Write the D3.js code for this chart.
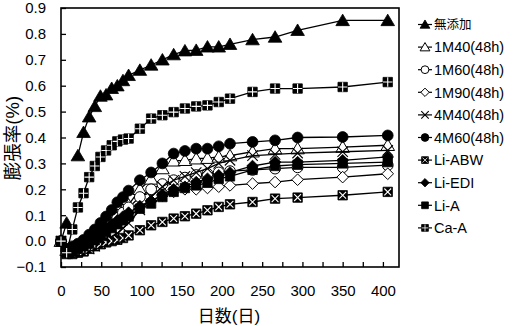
<!DOCTYPE html>
<html><head><meta charset="utf-8">
<script src="https://cdn.jsdelivr.net/npm/d3@7"></script>
<style>
html,body{margin:0;padding:0;background:#fff;}
svg{display:block;font-family:"Liberation Sans",Arial,"Noto Sans CJK JP",sans-serif;}
</style></head>
<body><svg id="c" width="514" height="326"></svg>
<script>
const days = [0,7,14,21,28,35,42,49,56,63,70,77,84,98,112,126,140,154,168,182,196,210,238,266,294,350,406];
const seriesNames = ["無添加","1M40(48h)","1M60(48h)","1M90(48h)","4M40(48h)","4M60(48h)","Li-ABW","Li-EDI","Li-A","Ca-A"];
const markerTypes = ["triFill","triOpen","circOpen","diaOpen","cross","circFill","boxX","diaFill","sqFill","boxPlus"];
const vMutenka = [0,0.07,null,0.33,0.42,0.48,0.52,0.56,0.565,0.59,0.60,0.62,0.64,0.66,0.68,0.70,0.72,0.735,0.737,0.75,0.75,0.76,0.778,0.788,0.814,0.852,0.852];
const v1M40 = [0,-0.035,-0.035,-0.025,-0.01,0.005,0.02,0.04,0.06,0.08,0.10,0.12,0.14,0.20,0.24,0.28,0.31,0.312,0.318,0.32,0.325,0.33,0.345,0.357,0.357,0.363,0.37];
const v1M60 = [0,-0.035,-0.04,-0.03,-0.02,-0.005,0.01,0.03,0.05,0.07,0.09,0.11,0.13,0.17,0.20,0.22,0.235,0.245,0.255,0.26,0.265,0.27,0.275,0.28,0.285,0.285,0.293];
const v1M90 = [0,-0.04,-0.045,-0.04,-0.03,-0.02,-0.01,0.005,0.02,0.035,0.05,0.07,0.09,0.13,0.155,0.175,0.19,0.2,0.2,0.205,0.21,0.215,0.222,0.228,0.237,0.247,0.26];
const v4M40 = [0,-0.04,-0.045,-0.04,-0.035,-0.03,-0.02,-0.01,0.0,0.015,0.03,0.05,0.07,0.12,0.17,0.21,0.235,0.25,0.265,0.28,0.30,0.312,0.33,0.335,0.34,0.345,0.35];
const v4M60 = [0,-0.03,-0.02,-0.01,0.005,0.025,0.045,0.07,0.095,0.12,0.15,0.17,0.195,0.235,0.265,0.30,0.338,0.348,0.357,0.357,0.366,0.376,0.383,0.389,0.40,0.402,0.408];
const vLiABW = [0,-0.05,-0.05,-0.045,-0.04,-0.03,-0.02,-0.012,-0.005,0.0,0.005,0.012,0.022,0.042,0.061,0.074,0.087,0.096,0.106,0.119,0.132,0.142,0.151,0.164,0.168,0.177,0.19];
const vLiEDI = [0,-0.035,-0.035,-0.025,-0.015,0.0,0.015,0.03,0.05,0.065,0.08,0.095,0.11,0.135,0.155,0.18,0.20,0.21,0.228,0.241,0.254,0.265,0.29,0.305,0.305,0.312,0.325];
const vLiA = [0,-0.04,-0.04,-0.03,-0.02,-0.01,0.005,0.02,0.035,0.05,0.065,0.08,0.095,0.125,0.145,0.17,0.19,0.205,0.215,0.225,0.24,0.25,0.275,0.29,0.295,0.30,0.305];
const vCaA = [0,-0.045,0.045,0.13,0.185,0.247,0.29,0.325,0.35,0.37,0.385,0.392,0.396,0.434,0.473,0.486,0.498,0.512,0.52,0.524,0.537,0.55,0.576,0.589,0.589,0.595,0.614];
const allValues = [vMutenka,v1M40,v1M60,v1M90,v4M40,v4M60,vLiABW,vLiEDI,vLiA,vCaA];
const yTicks = [-0.1,0,0.1,0.2,0.3,0.4,0.5,0.6,0.7,0.8,0.9];
const xTicks = [0,50,100,150,200,250,300,350,400];
const xMinor = d3.range(0,401,25);

const svg = d3.select("#c");
const L=61, R=399, T=8, B=267;
const x = d3.scaleLinear().domain([0,420]).range([L,R]);
const y = d3.scaleLinear().domain([-0.1,0.9]).range([B,T]);

function markerPath(type, s){
  const p = d3.path();
  if(type.startsWith("tri")){
    p.moveTo(0,-6.3*s); p.lineTo(6.8*s,5.2*s); p.lineTo(-6.8*s,5.2*s); p.closePath();
  } else if(type.startsWith("circ")){
    p.arc(0,0,5.4*s,0,2*Math.PI); p.closePath();
  } else if(type.startsWith("dia")){
    p.moveTo(0,-5.8*s); p.lineTo(5.8*s,0); p.lineTo(0,5.8*s); p.lineTo(-5.8*s,0); p.closePath();
  } else if(type==="sqFill"||type==="boxX"||type==="boxPlus"){
    p.rect(-4.7*s,-4.7*s,9.4*s,9.4*s);
  } else if(type==="cross"){
    p.moveTo(-5.2*s,-5.2*s); p.lineTo(5.2*s,5.2*s); p.moveTo(5.2*s,-5.2*s); p.lineTo(-5.2*s,5.2*s);
  }
  return p.toString();
}
function drawMarker(g, type, s){
  const open = type.endsWith("Open");
  if(type==="cross"){
    g.append("path").attr("d",markerPath(type,s)).attr("fill","none").attr("stroke","#000").attr("stroke-width",1.1);
    return;
  }
  g.append("path").attr("d",markerPath(type,s))
    .attr("fill", open?"#fff":"#000")
    .attr("stroke","#000").attr("stroke-width",open?1:0.8);
  if(type==="boxX"){
    const a=3.4*s;
    g.append("path").attr("d",`M${-a},${-a}L${a},${a}M${a},${-a}L${-a},${a}`).attr("stroke","#fff").attr("stroke-width",1.1*s);
  } else if(type==="boxPlus"){
    const a=4.7*s;
    g.append("path").attr("d",`M${-a},0L${a},0M0,${-a}L0,${a}`).attr("stroke","#fff").attr("stroke-width",1.1*s);
  }
}

// frame
svg.append("rect").attr("x",L).attr("y",T).attr("width",R-L).attr("height",B-T)
  .attr("fill","none").attr("stroke","#000").attr("stroke-width",1.6);

// y ticks (inward)
const yAxis = d3.axisLeft(y).tickValues(yTicks).tickSizeInner(-5).tickSizeOuter(0).tickPadding(15).tickFormat(d3.format(".1f"));
const gy = svg.append("g").attr("transform",`translate(${L},0)`).call(yAxis);
gy.select(".domain").remove();
gy.selectAll("line").attr("stroke","#000").attr("stroke-width",1.3);
gy.selectAll("text").attr("font-size",15).attr("fill","#000").attr("font-family","Liberation Sans, Arial, sans-serif");

// x ticks (inward), minor every 25
const xAxisMinor = d3.axisBottom(x).tickValues(xMinor).tickSizeInner(-5).tickSizeOuter(0).tickFormat("");
const gxm = svg.append("g").attr("transform",`translate(0,${B})`).call(xAxisMinor);
gxm.select(".domain").remove();
gxm.selectAll("line").attr("stroke","#000").attr("stroke-width",1.3);
const xAxis = d3.axisBottom(x).tickValues(xTicks).tickSize(0).tickPadding(18).tickFormat(d3.format("d"));
const gx = svg.append("g").attr("transform",`translate(0,${B})`).call(xAxis);
gx.select(".domain").remove();
gx.selectAll("text").attr("font-size",15).attr("fill","#000").attr("font-family","Liberation Sans, Arial, sans-serif");

// series
const line = d3.line().defined(d=>d[1]!==null).x(d=>x(d[0])).y(d=>y(d[1]));
allValues.forEach((vals,i)=>{
  const pts = days.map((d,j)=>[d,vals[j]]);
  const g = svg.append("g");
  g.append("path").attr("d",line(pts)).attr("fill","none").attr("stroke","#000").attr("stroke-width",1.3);
  pts.filter(p=>p[1]!==null).forEach(p=>{
    const mg = g.append("g").attr("transform",`translate(${x(p[0])},${y(p[1])})`);
    drawMarker(mg, markerTypes[i], 1);
  });
});

// legend
const lg = svg.append("g");
seriesNames.forEach((n,i)=>{
  const cy = 24.5 + i*22.6;
  lg.append("line").attr("x1",418).attr("x2",432).attr("y1",cy).attr("y2",cy).attr("stroke","#000").attr("stroke-width",1.2);
  const mg = lg.append("g").attr("transform",`translate(425,${cy})`);
  drawMarker(mg, markerTypes[i], 0.72);
  lg.append("text").attr("x",434).attr("y",cy).attr("dy","0.36em")
    .attr("font-size", i===0?12.5:14.5).attr("fill","#000").text(n);
});

// axis titles
svg.append("text").attr("transform","translate(13,138) rotate(-90)").attr("text-anchor","middle")
  .attr("dy","0.35em").attr("font-size",18.5).attr("fill","#000").text("膨張率(%)");
svg.append("text").attr("x",229).attr("y",316).attr("text-anchor","middle").attr("dy","0.35em")
  .attr("font-size",17).attr("fill","#000").text("日数(日)");
</script></body></html>
